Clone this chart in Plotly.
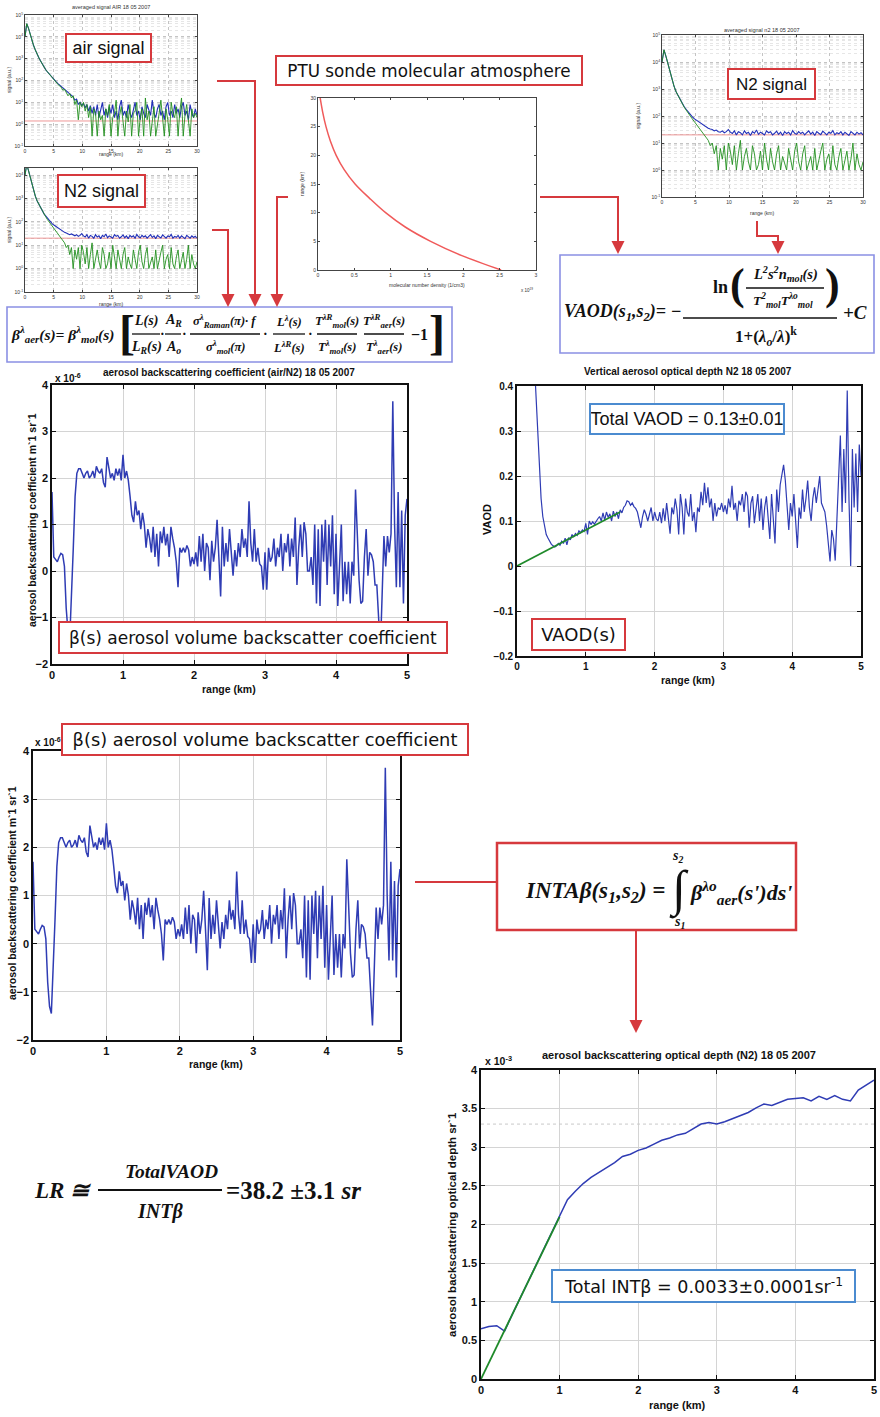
import plotly.graph_objects as go

W, H = 880, 1417

# ---------------- data ----------------
# lidar signals, sampled every 0.3 km from 0 to 30 km (values are log10 of signal, a.u.)
sig_range_km = [round(0.3 * i, 1) for i in range(101)]
air_blue_log10 = [
    4.0, 4.6, 4.4, 4.1, 3.85, 3.6, 3.4, 3.2, 3.05, 2.9,
    2.75, 2.62, 2.5, 2.4, 2.3, 2.2, 2.12, 2.03, 1.95, 1.87,
    1.8, 1.72, 1.65, 1.6, 1.5, 1.45, 1.4, 1.3, 1.25, 1.1,
    1.15, 0.9, 1.0, 0.85, 0.95, 0.75, 0.9, 0.6, 0.85, 0.5,
    0.8, 0.4, 0.9, 0.3, 0.6, 1.0, 0.4, 0.7, 0.3, 0.8,
    0.5, 0.9, 0.3, 0.6, 0.2, 0.8, 1.1, 0.4, 0.6, 0.3,
    0.9, 0.5, 0.3, 0.7, 1.0, 0.4, 0.6, 0.2, 0.8, 0.5,
    0.3, 0.9, 0.6, 0.4, 1.1, 0.5, 0.3, 0.7, 0.9, 0.4,
    0.6, 0.2, 0.8, 1.0, 0.4, 0.6, 0.3, 0.9, 0.5, 0.7,
    0.3, 0.8, 1.0, 0.4, 0.6, 0.2, 0.9, 0.5, 0.3, 0.7,
    0.4]
air_green_log10 = [
    4.0, 4.6, 4.4, 4.1, 3.85, 3.6, 3.4, 3.2, 3.05, 2.9,
    2.75, 2.6, 2.5, 2.4, 2.3, 2.2, 2.1, 2.0, 1.95, 1.85,
    1.75, 1.7, 1.55, 1.6, 1.45, 1.3, 1.4, 1.2, 1.3, 0.9,
    1.1, 0.2, 1.0, 0.8, 1.0, 0.6, 0.9, 0.3, 0.8, -0.55,
    0.7, 0.5, -0.55, 0.6, 0.2, 0.4, -0.55, 0.7, 0.4, 0.9,
    -0.55, 0.3, 0.5, 1.1, -0.55, 0.4, 0.8, 0.2, -0.55, 0.6,
    0.1, 0.9, -0.55, 0.5, 0.6, 1.0, -0.55, 0.3, 0.7, -0.55,
    1.2, 0.2, 0.6, -0.55, 0.3, 0.8, -0.55, 0.1, 0.5, 1.1,
    0.4, -0.55, 0.7, 0.2, -0.55, 1.0, 0.5, 0.3, 0.8, -0.55,
    0.6, 1.2, -0.55, 0.4, 0.9, 0.1, -0.55, 0.7, 0.3, 0.5,
    0.3]
n2_blue_log10 = [
    4.0, 4.45, 4.2, 3.9, 3.6, 3.35, 3.1, 2.9, 2.75, 2.6,
    2.45, 2.35, 2.25, 2.15, 2.05, 1.98, 1.9, 1.85, 1.8, 1.72,
    1.68, 1.62, 1.6, 1.55, 1.52, 1.5, 1.45, 1.48, 1.42, 1.4,
    1.45, 1.38, 1.42, 1.5, 1.4, 1.35, 1.45, 1.3, 1.42, 1.38,
    1.3, 1.45, 1.35, 1.4, 1.28, 1.42, 1.36, 1.48, 1.32, 1.4,
    1.35, 1.3, 1.45, 1.38, 1.42, 1.3, 1.36, 1.44, 1.32, 1.4,
    1.28, 1.42, 1.35, 1.4, 1.3, 1.46, 1.36, 1.32, 1.42, 1.35,
    1.4, 1.3, 1.38, 1.45, 1.33, 1.4, 1.28, 1.42, 1.36, 1.31,
    1.44, 1.35, 1.3, 1.4, 1.36, 1.46, 1.3, 1.38, 1.34, 1.42,
    1.3, 1.4, 1.35, 1.28, 1.42, 1.36, 1.3, 1.4, 1.33, 1.38,
    1.3]
n2_green_log10 = [
    4.0, 4.45, 4.2, 3.9, 3.6, 3.35, 3.1, 2.9, 2.75, 2.6,
    2.45, 2.33, 2.22, 2.1, 2.0, 1.9, 1.8, 1.7, 1.6, 1.5,
    1.4, 1.3, 1.2, 1.1, 0.9, 1.0, 0.6, 0.9, 0.0, 0.8,
    0.4, 0.9, 0.0, 1.0, 0.7, 0.2, 0.9, 0.0, 0.6, 1.1,
    0.0, 0.5, 0.8, 0.3, 0.0, 0.9, 0.6, 0.0, 0.2, 0.7,
    0.0, 1.0, 0.4, 0.0, 0.8, 0.3, 0.0, 0.6, 0.9, 0.0,
    0.5, 0.2, 0.0, 0.8, 0.4, 0.0, 0.7, 1.0, 0.3, 0.0,
    0.6, 0.9, 0.0, 0.3, 0.5, 0.0, 0.8, 0.0, 0.4, 0.7,
    1.0, 0.0, 0.4, 0.6, 0.0, 0.9, 0.2, 0.0, 0.5, 0.8,
    0.0, 0.3, 0.7, 0.0, 0.4, 1.0, 0.0, 0.6, 0.2, 0.0,
    0.3]
air_background = 1.4
n2_background = 20.0
log_tick_exponents = [-1, 0, 1, 2, 3, 4, 5]
sig_xticks = [0, 5, 10, 15, 20, 25, 30]

# PTU sonde molecular number density (x 1e19 1/cm3) vs range (km)
ptu_range_km = [0, 2.5, 5, 7.5, 10, 12.5, 15, 17.5, 20, 22.5, 25, 27.5, 30]
ptu_density_e19 = [2.52, 1.98, 1.55, 1.2, 0.93, 0.71, 0.51, 0.36, 0.25, 0.17, 0.11, 0.065, 0.03]
ptu_xticks = [0, 0.5, 1, 1.5, 2, 2.5, 3]
ptu_xticktext = ["0", "0.5", "1", "1.5", "2", "2.5", "3"]

# aerosol backscattering coefficient (x 1e-6 m^-1 sr^-1), every 0.025 km from 0 to 5 km
beta_e6 = [
    1.7, 0.3, 0.25, 0.2, 0.3, 0.38, 0.35, 0.1,
    -0.8, -1.3, -1.45, -0.6, 0.5, 1.6, 2.1, 2.2,
    2.2, 2.1, 2.0, 2.1, 2.15, 2.0, 2.05, 2.15,
    2.0, 2.25, 2.15, 2.1, 2.2, 1.9, 1.8, 2.45,
    2.2, 2.0, 2.1, 1.95, 2.2, 2.05, 2.2, 1.95,
    2.5, 2.0, 2.15, 1.95, 1.6, 1.2, 1.05, 1.5,
    1.2, 1.3, 0.9, 1.25, 1.0, 0.5, 0.9, 0.7,
    0.4, 0.95, 0.3, 0.8, 0.1, 0.85, 0.6, 0.95,
    0.55, 0.8, 0.3, 0.95, 0.7, 0.5, 0.2, -0.35,
    0.5, 0.4, 0.5, 0.4, 0.55, 0.45, 0.1, 0.3,
    0.15, 0.4, 0.1, 0.75, 0.2, 0.8, 0.0, 0.6,
    0.5, -0.2, 0.65, 0.2, 0.5, 1.1, 0.3, -0.55,
    0.95, 0.1, 0.6, 0.2, 0.9, 0.3, -0.1, 0.45,
    0.1, 0.6, 0.3, 0.9, 0.5, 0.7, 0.3, 1.5,
    0.6, 0.2, 0.9, 0.2, 0.5, 0.15, 0.1, -0.4,
    0.4, -0.4, 0.5, 0.2, 0.3, 0.7, 0.1, 0.5,
    0.3, 0.8, 0.0, 0.6, 0.4, 0.8, 0.1, 0.7,
    0.3, 1.15, -0.3, 0.5, 1.0, 0.3, 1.05, 0.8,
    0.0, 0.0, 0.3, -0.3, 1.0, -0.7, 0.9, -0.75,
    1.0, 0.2, 1.1, -0.3, 1.0, 0.1, 1.2, -0.5,
    0.8, -0.75, 0.3, 1.0, -0.65, 0.2, -0.5, 0.2,
    -0.7, 0.2, -0.1, 1.75, 0.8, -0.2, -0.7, -0.65,
    0.3, 0.9, -0.1, 0.4, 0.35, 0.2, -0.3, -0.3,
    -1.0, -1.7, -0.5, 0.75, 0.1, 0.75, 0.4, 0.8,
    3.65, 1.0, -0.35, 1.7, -0.35, 1.3, -0.7, 1.2,
    1.55]
beta_range_km = [round(0.025 * i, 3) for i in range(len(beta_e6))]

# vertical aerosol optical depth, every 0.025 km from 0.25 to 5 km
vaod = [
    0.46, 0.38, 0.29, 0.21, 0.15, 0.11, 0.085, 0.07,
    0.062, 0.055, 0.048, 0.045, 0.042, 0.045, 0.05, 0.046,
    0.055, 0.05, 0.062, 0.047, 0.063, 0.058, 0.07, 0.065,
    0.072, 0.068, 0.078, 0.074, 0.08, 0.077, 0.095, 0.07,
    0.1, 0.092, 0.098, 0.093, 0.1, 0.105, 0.11, 0.1,
    0.118, 0.102, 0.12, 0.108, 0.116, 0.1, 0.122, 0.11,
    0.12, 0.105, 0.125, 0.118, 0.13, 0.135, 0.145, 0.143,
    0.135, 0.14, 0.132, 0.128, 0.12, 0.105, 0.085, 0.11,
    0.125, 0.115, 0.1, 0.115, 0.13, 0.1, 0.12, 0.105,
    0.1, 0.12, 0.095, 0.128, 0.1, 0.14, 0.11, 0.072,
    0.13, 0.115, 0.15, 0.125, 0.07, 0.16, 0.13, 0.07,
    0.15, 0.12, 0.11, 0.16, 0.1, 0.12, 0.075, 0.13,
    0.12, 0.165, 0.135, 0.185, 0.14, 0.175, 0.13, 0.15,
    0.1, 0.14, 0.11, 0.13, 0.125, 0.14, 0.12, 0.135,
    0.115, 0.15, 0.13, 0.178, 0.125, 0.14, 0.1, 0.145,
    0.135, 0.16, 0.12, 0.165, 0.155, 0.085, 0.14, 0.155,
    0.095, 0.135, 0.16, 0.1, 0.15, 0.08, 0.13, 0.155,
    0.11, 0.06, 0.16, 0.095, 0.05, 0.17, 0.12, 0.18,
    0.2, 0.225, 0.19, 0.13, 0.08, 0.14, 0.11, 0.16,
    0.09, 0.04, 0.13, 0.105, 0.17, 0.12, 0.15, 0.19,
    0.13, 0.1, 0.15, 0.175, 0.14, 0.17, 0.2, 0.14,
    0.13, 0.12, 0.09, 0.05, 0.01, 0.08, 0.06, 0.012,
    0.1, 0.21, 0.29, 0.12, 0.26, 0.14, 0.39, 0.15,
    0.0, 0.26, 0.13, 0.25, 0.12, 0.27, 0.2]
vaod_range_km = [round(0.25 + 0.025 * i, 3) for i in range(len(vaod))]
vaod_fit_range_km = [0.0, 1.5]
vaod_fit = [0.0, 0.12]

# integrated aerosol backscatter (x 1e-3 sr^-1), every 0.1 km from 0 to 5 km
intb_e3 = [
    0.65, 0.68, 0.69, 0.62, 0.84, 1.05, 1.26, 1.47, 1.68, 1.89,
    2.1, 2.32, 2.43, 2.53, 2.61, 2.67, 2.73, 2.8, 2.88, 2.91,
    2.96, 2.99, 3.04, 3.09, 3.12, 3.16, 3.18, 3.24, 3.3, 3.32,
    3.3, 3.33, 3.37, 3.41, 3.45, 3.51, 3.56, 3.54, 3.58, 3.62,
    3.63, 3.64, 3.6, 3.66, 3.62, 3.67, 3.62, 3.6, 3.74, 3.8,
    3.87]
intb_range_km = [round(0.1 * i, 1) for i in range(len(intb_e3))]
intb_fit_range_km = [0.0, 1.0]
intb_fit_e3 = [0.0, 2.1]
total_intb_e3 = 3.3

# ---------------- styling ----------------
RED = "#d6393d"
BOXBLUE = "#4b8bd0"
FORMBOX = "#8b90e4"
BLUE = "#2f3cb4"
GREEN = "#1f8a2a"
SBLUE = "#2230b8"
SGREEN = "#22901f"
SANS = "Liberation Sans, Arial, sans-serif"
SERIF = "Liberation Serif, DejaVu Serif, serif"
COMIC = "DejaVu Sans, sans-serif"


def fx(p):
    return p / W


def fy(p):
    return 1 - p / H


def dom(x0, x1, y0, y1):
    return [fx(x0), fx(x1)], [fy(y1), fy(y0)]


fig = go.Figure()

# panel pixel boxes: (x0, x1, y0, y1)
P = {
    1: (25, 197, 15, 146),     # air signal
    2: (25, 197, 168, 292),    # N2 signal (left)
    3: (318, 536, 98, 270),    # PTU
    4: (662, 863, 35, 197),    # N2 signal (right)
    5: (52, 407, 385, 664),    # beta (air/N2)
    6: (517, 861, 386, 656),   # VAOD
    7: (33, 400, 751, 1040),   # beta (bottom)
    8: (481, 874, 1070, 1379), # INT beta
}


def xy(i):
    return ("x" if i == 1 else f"x{i}"), ("y" if i == 1 else f"y{i}")


def add(i, x, y, color, width, dash=None, shape="linear"):
    xa, ya = xy(i)
    fig.add_trace(go.Scatter(x=x, y=y, mode="lines", xaxis=xa, yaxis=ya,
                             line=dict(color=color, width=width, dash=dash, shape=shape),
                             hoverinfo="skip", showlegend=False))


air_blue = [10 ** v for v in air_blue_log10]
air_green = [10 ** v for v in air_green_log10]
n2_blue = [10 ** v for v in n2_blue_log10]
n2_green = [10 ** v for v in n2_green_log10]

for i, (bl, gr, bg) in {1: (air_blue, air_green, air_background),
                        2: (n2_blue, n2_green, n2_background),
                        4: (n2_blue, n2_green, n2_background)}.items():
    add(i, [sig_range_km[0], sig_range_km[-1]], [bg, bg], "#e05050", 0.6)
    add(i, sig_range_km, bl, SBLUE, 1.1)
    add(i, sig_range_km, gr, SGREEN, 0.9)

add(3, ptu_density_e19, ptu_range_km, "#f05a5a", 1.5, shape="spline")

add(5, beta_range_km, beta_e6, BLUE, 1.5)
add(7, beta_range_km, beta_e6, BLUE, 1.5)
add(6, vaod_range_km, vaod, BLUE, 1.2)
add(6, vaod_fit_range_km, vaod_fit, GREEN, 1.6)
add(8, [0, 5], [total_intb_e3, total_intb_e3], "#c8c8c8", 1, "dot")
add(8, intb_range_km, intb_e3, BLUE, 1.5)
add(8, intb_fit_range_km, intb_fit_e3, GREEN, 1.8)

# ---------------- axes ----------------
layout = {}
small_common = dict(showline=True, linecolor="#444", linewidth=0.8, mirror="allticks",
                    ticks="inside", ticklen=2, tickcolor="#444",
                    tickfont=dict(size=5, family=SANS, color="#333"),
                    showgrid=True, gridcolor="#c4c4c4", griddash="dot", gridwidth=0.6,
                    zeroline=False, automargin=False)
big_common = dict(showline=True, linecolor="#111", linewidth=1.6, mirror="allticks",
                  ticks="inside", ticklen=4, tickcolor="#111",
                  tickfont=dict(size=11, family=SANS, color="#111", weight="bold"),
                  showgrid=True, gridcolor="#d4d4d4", gridwidth=1,
                  zeroline=False, automargin=False)

for i in (1, 2, 4):
    x0, x1, y0, y1 = P[i]
    xd, yd = dom(x0, x1, y0, y1)
    xa, ya = xy(i)
    xk = "xaxis" if i == 1 else f"xaxis{i}"
    yk = "yaxis" if i == 1 else f"yaxis{i}"
    top = 4.3 if i == 2 else 5
    exps = [e for e in log_tick_exponents if e <= top]
    layout[xk] = dict(small_common, domain=xd, anchor=ya, range=[0, 30],
                      tickmode="array", tickvals=sig_xticks,
                      ticktext=[str(v) for v in sig_xticks])
    layout[yk] = dict(small_common, domain=yd, anchor=xa, type="log", range=[-1, top],
                      tickmode="array", tickvals=[10 ** e for e in exps],
                      ticktext=[f"10<sup>{e}</sup>" for e in exps],
                      minor=dict(dtick="D1", showgrid=True, gridcolor="#e6e6e6",
                                 griddash="dot", gridwidth=0.5, ticks=""))

x0, x1, y0, y1 = P[3]
xd, yd = dom(x0, x1, y0, y1)
layout["xaxis3"] = dict(small_common, domain=xd, anchor="y3", range=[0, 3],
                        tickmode="array", tickvals=ptu_xticks, ticktext=ptu_xticktext,
                        showgrid=False)
layout["yaxis3"] = dict(small_common, domain=yd, anchor="x3", range=[0, 30],
                        tickmode="linear", tick0=0, dtick=5, showgrid=False)

for i, yr, dt, tf in ((5, [-2, 4], 1, 11), (7, [-2, 4], 1, 11),
                      (6, [-0.2, 0.4], 0.1, 10), (8, [0, 4], 0.5, 11)):
    x0, x1, y0, y1 = P[i]
    xd, yd = dom(x0, x1, y0, y1)
    xa, ya = xy(i)
    tfont = dict(size=tf, family=SANS, color="#111", weight="bold")
    layout[f"xaxis{i}"] = dict(big_common, domain=xd, anchor=ya, range=[0, 5],
                               tickmode="linear", tick0=0, dtick=1, tickfont=tfont)
    layout[f"yaxis{i}"] = dict(big_common, domain=yd, anchor=xa, range=yr,
                               tickmode="linear", tick0=0, dtick=dt, tickfont=tfont)

# ---------------- annotations & shapes ----------------
ann = []
shapes = []


def text(x, y, s, size, family=SANS, color="#111", xanchor="center", yanchor="middle", angle=0):
    ann.append(dict(x=fx(x), y=fy(y), xref="paper", yref="paper", text=s, showarrow=False,
                    font=dict(size=size, family=family, color=color),
                    xanchor=xanchor, yanchor=yanchor, textangle=angle))


def box(x0, y0, x1, y1, s, size, border, family, bw=2, color="#111"):
    ann.append(dict(x=fx((x0 + x1) / 2), y=fy((y0 + y1) / 2), xref="paper", yref="paper",
                    text=s, showarrow=False, font=dict(size=size, family=family, color=color),
                    bordercolor=border, borderwidth=bw, borderpad=0, bgcolor="white",
                    width=(x1 - x0) - 2 * bw, height=(y1 - y0) - 2 * bw,
                    xanchor="center", yanchor="middle", align="center", valign="middle"))


def seg(points, color=RED, width=2):
    path = "M " + " L ".join(f"{fx(a):.5f},{fy(b):.5f}" for a, b in points)
    shapes.append(dict(type="path", path=path, xref="paper", yref="paper",
                       line=dict(color=color, width=width), layer="above"))


def hline(xa, xb, y, color="#111", width=1.3):
    shapes.append(dict(type="line", xref="paper", yref="paper", x0=fx(xa), x1=fx(xb),
                       y0=fy(y), y1=fy(y), line=dict(color=color, width=width), layer="above"))


def rect(x0, y0, x1, y1, color, width):
    shapes.append(dict(type="rect", xref="paper", yref="paper", x0=fx(x0), x1=fx(x1),
                       y0=fy(y1), y1=fy(y0), line=dict(color=color, width=width),
                       fillcolor="rgba(0,0,0,0)", layer="above"))


def head(x, y, length=12):
    ann.append(dict(x=fx(x), y=fy(y), xref="paper", yref="paper", ax=0, ay=-length,
                    text="", showarrow=True, arrowhead=2, arrowsize=1.3, arrowwidth=2,
                    arrowcolor=RED))


def bi(s):
    return f"<b><i>{s}</i></b>"


# small-panel labels
text(111, 7, "averaged signal AIR 18 05 2007", 5.5, color="#333")
text(9, 80, "signal (a.u.)", 5, color="#333", angle=-90)
text(111, 154, "range (km)", 5, color="#333")
text(9, 230, "signal (a.u.)", 5, color="#333", angle=-90)
text(111, 304, "range (km)", 5, color="#333")
text(762, 30, "averaged signal n2 18 05 2007", 5.5, color="#333")
text(638, 116, "signal (a.u.)", 5, color="#333", angle=-90)
text(762, 213, "range (km)", 5, color="#333")
text(302, 184, "range (km)", 5, color="#333", angle=-90)
text(427, 285, "molecular number density (1/cm3)", 5, color="#333")
text(527, 290, "x 10<sup>19</sup>", 4.5, color="#333")

box(65, 33, 152, 63, "air signal", 18, RED, SANS)
box(57, 174, 146, 208, "N2 signal", 18, RED, SANS)
box(727, 68, 816, 100, "N2 signal", 17, RED, SANS)
box(275, 55, 583, 86, "PTU sonde molecular atmosphere", 16.8, RED, COMIC)

# connectors
seg([(217, 81), (255, 81), (255, 296)])
head(255, 307)
seg([(212, 230), (228, 230), (228, 296)])
head(228, 307)
seg([(288, 197), (277, 197), (277, 296)])
head(277, 307)
seg([(540, 197), (618, 197), (618, 243)])
head(618, 254)
seg([(757, 221), (757, 236), (778, 236), (778, 243)])
head(778, 254)
seg([(415, 882), (497, 882)])
seg([(636, 930), (636, 1020)])
head(636, 1033)

# beta formula
rect(7, 307, 452, 362, FORMBOX, 1.6)
text(9, 334, bi("β<sup>λ</sup><sub>aer</sub>(s)= β<sup>λ</sup><sub>mol</sub>(s)"), 15.5,
     SERIF, xanchor="left")
text(127, 332, "<b>[</b>", 48, SERIF)
text(437, 332, "<b>]</b>", 48, SERIF)


def frac(cx, num, den, hw, size=13, cy=334, gap=13):
    text(cx, cy - gap, bi(num), size, SERIF)
    text(cx, cy + gap, bi(den), size, SERIF)
    hline(cx - hw, cx + hw, cy)


frac(146, "L(s)", "L<sub>R</sub>(s)", 14, size=14)
text(162, 334, "<b>·</b>", 14, SERIF)
frac(173, "A<sub>R</sub>", "A<sub>o</sub>", 8, size=14)
text(184, 334, "<b>·</b>", 14, SERIF)
frac(225, "σ<sup>λ</sup><sub>Raman</sub>(π)· f", "σ<sup>λ</sup><sub>mol</sub>(π)", 35, size=12.5)
text(265, 334, "<b>·</b>", 14, SERIF)
frac(289, "L<sup>λ</sup>(s)", "L<sup>λR</sup>(s)", 16, size=12.5)
text(310, 334, "<b>·</b>", 14, SERIF)
frac(337, "T<sup>λR</sup><sub>mol</sub>(s)", "T<sup>λ</sup><sub>mol</sub>(s)", 20, size=12.5)
frac(384, "T<sup>λR</sup><sub>aer</sub>(s)", "T<sup>λ</sup><sub>aer</sub>(s)", 20, size=12.5)
text(419, 334, "<b>−1</b>", 16, SERIF)

# VAOD formula
rect(560, 255, 874, 353, FORMBOX, 1.6)
text(683, 312, bi("VAOD(s<sub>1</sub>,s<sub>2</sub>)= −"), 18, SERIF, xanchor="right")
hline(683, 837, 318, width=1.5)
text(720, 287, "<b>ln</b>", 18, SERIF)
text(737, 285, "<b>(</b>", 44, SERIF)
text(832, 285, "<b>)</b>", 44, SERIF)
text(785, 274, bi("L<sup>2</sup>s<sup>2</sup>n<sub>mol</sub>(s)"), 14.5, SERIF)
hline(746, 824, 288, width=1.3)
text(783, 301, bi("T<sup>2</sup><sub>mol</sub>T<sup>λo</sup><sub>mol</sub>"), 13.5, SERIF)
text(766, 336, "<b>1+(<i>λ<sub>o</sub></i>/<i>λ</i>)<sup>k</sup></b>", 17, SERIF)
text(855, 312, bi("+C"), 19, SERIF)

# beta panel (air/N2)
text(229, 372, "<b>aerosol backscattering coefficient (air/N2) 18 05 2007</b>", 10)
text(53, 378, "<b>x 10<sup>-6</sup></b>", 10, xanchor="left")
text(32, 520, "<b>aerosol backscattering coefficient m`1 sr`1</b>", 10.5, angle=-90)
text(229, 689, "<b>range (km)</b>", 10.5)
box(58, 621, 448, 654, "β(s) aerosol volume backscatter coefficient", 17, RED, COMIC)

# VAOD panel
text(688, 371, "<b>Vertical aerosol optical depth N2 18 05 2007</b>", 10)
text(487, 520, "<b>VAOD</b>", 11, angle=-90)
text(688, 680, "<b>range (km)</b>", 10.5)
box(589, 403, 785, 435, "Total VAOD = 0.13±0.01", 18, BOXBLUE, SANS)
box(531, 618, 626, 651, "VAOD(s)", 18, RED, COMIC)

# beta panel (bottom)
text(33, 742, "<b>x 10<sup>-6</sup></b>", 10, xanchor="left")
text(12, 893, "<b>aerosol backscattering coefficient m`1 sr`1</b>", 10.5, angle=-90)
text(216, 1064, "<b>range (km)</b>", 10.5)
box(61, 723, 469, 756, "β(s) aerosol volume backscatter coefficient", 17.8, RED, COMIC)

# INTA beta formula
rect(497, 843, 796, 930, RED, 2.5)
text(667, 892, bi("INTAβ(s<sub>1</sub>,s<sub>2</sub>) ="), 23, SERIF, xanchor="right")
text(679, 889, "∫", 50, SERIF)
text(677, 856, bi("s<sub>2</sub>"), 14, SERIF)
text(679, 922, bi("s<sub>1</sub>"), 14, SERIF)
text(688, 892, bi("β<sup>λo</sup><sub>aer</sub>(s')ds'"), 22, SERIF, xanchor="left")

# INT beta panel
text(679, 1055, "<b>aerosol backscattering optical depth (N2) 18 05 2007</b>", 11)
text(483, 1060, "<b>x 10<sup>-3</sup></b>", 10.5, xanchor="left")
text(452, 1225, "<b>aerosol backscattering optical depth sr`1</b>", 11.5, angle=-90)
text(677, 1405, "<b>range (km)</b>", 11)
box(551, 1269, 856, 1303, "Total INTβ = 0.0033±0.0001sr<sup>-1</sup>", 17.5, BOXBLUE, COMIC)

# LR formula
text(93, 1190, bi("LR ≅"), 23, SERIF, xanchor="right")
text(171, 1171, bi("TotalVAOD"), 19.5, SERIF)
hline(98, 222, 1190, width=1.8)
text(160, 1211, bi("INTβ"), 20, SERIF)
text(224, 1190, "<b>=38.2 ±3.1 <i>sr</i></b>", 25, SERIF, xanchor="left")

fig.update_layout(
    width=W, height=H, margin=dict(l=0, r=0, t=0, b=0),
    paper_bgcolor="white", plot_bgcolor="white", showlegend=False,
    annotations=ann, shapes=shapes, **layout)

fig.write_html("out.html")
